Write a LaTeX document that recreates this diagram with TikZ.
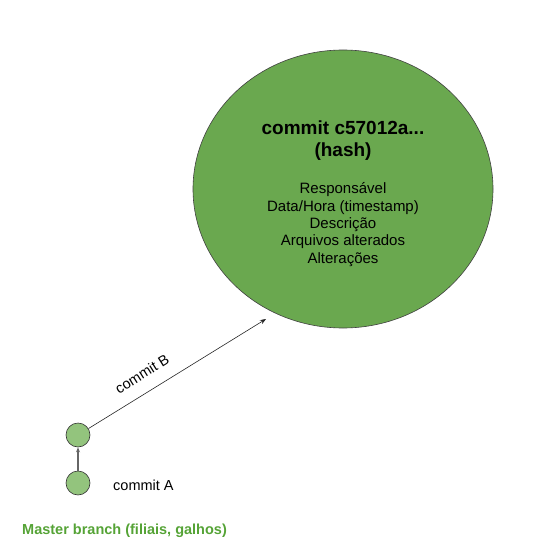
\documentclass[tikz,border=0pt]{standalone}
\usepackage{fontspec}
\setmainfont{Liberation Sans}
\usetikzlibrary{shapes.geometric,arrows.meta}
\definecolor{bigGreen}{HTML}{6AA84F}
\definecolor{smallGreen}{HTML}{93C47D}
\definecolor{labelGreen}{HTML}{55A336}
\definecolor{edgeGray}{HTML}{666666}
\tikzset{
  bigcommit/.style={ellipse, draw=black!75, line width=0.6pt, fill=bigGreen, minimum width=300pt, minimum height=278pt, inner sep=0pt},
  smallcommit/.style={circle, draw=black!80, line width=0.6pt, fill=smallGreen, minimum size=24pt, inner sep=0pt},
  plain/.style={font=\fontsize{14.5}{17}\selectfont, inner sep=0pt},
  titletext/.style={font=\bfseries\fontsize{19}{22}\selectfont, align=center, inner sep=0pt},
  bodytext/.style={font=\fontsize{15}{17.4}\selectfont, align=center, inner sep=0pt},
  branchtext/.style={font=\bfseries\fontsize{14.5}{17}\selectfont, text=labelGreen, inner sep=0pt},
  thinarrow/.style={-{Stealth[length=6pt,width=4.5pt]}, line width=0.6pt, black!85},
  grayarrow/.style={-{Stealth[length=5pt,width=4pt]}, line width=1.4pt, edgeGray}
}
\begin{document}
\begin{tikzpicture}[x=1pt,y=-1pt]
  \useasboundingbox (0,0) rectangle (540,551);
  \node[bigcommit] (big) at (343,189) {};
  \node[titletext] (title) at (343,140.5) {commit c57012a...\\(hash)};
  \node[bodytext] (body) at (343,224.5) {Responsável\\Data/Hora (timestamp)\\Descrição\\Arquivos alterados\\Alterações};
  \node[smallcommit] (c1) at (78,435) {};
  \node[smallcommit] (c2) at (78,483) {};
  \coordinate (bend) at (266,319);
  \draw[grayarrow] (c2) -- (c1);
  \draw[thinarrow] (c1) -- (bend);
  \node[plain, rotate=32] (lblB) at (142,374) {commit B};
  \node[plain, anchor=west] (lblA) at (113,485) {commit A};
  \node[branchtext, anchor=west] (branch) at (22,531) {Master branch (filiais, galhos)};
\end{tikzpicture}
\end{document}
